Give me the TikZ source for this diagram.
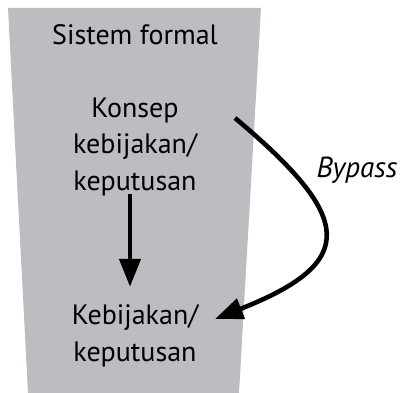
\documentclass[tikz,border=0pt]{standalone}
\usepackage{fontspec}
\setmainfont{PT Sans}
\usetikzlibrary{arrows.meta, positioning}

\definecolor{formalgray}{RGB}{188,189,192}

\begin{document}
\begin{tikzpicture}[x=1pt, y=-1pt,
    every node/.style={font=\fontsize{28}{36.5}\selectfont, inner sep=0pt},
    lbl/.style={align=center},
    a/.style={-{Triangle[length=28pt, width=21pt]}, line width=4.6pt}
]
\useasboundingbox (0,0) rectangle (402,393);
\fill[formalgray] (8,8) -- (261,8) -- (239,393) -- (28,393) -- cycle;
\node[lbl, anchor=base] (title)   at (135,45)  {Sistem formal};
\node[lbl]              (konsep)  at (135,147) {Konsep\\kebijakan/\\keputusan};
\node[lbl]              (hasil)   at (135,336) {Kebijakan/\\keputusan};
\node[font=\fontsize{29}{30}\selectfont\itshape] (bypass) at (357,170) {Bypass};
\coordinate (bstart) at (235,118);
\coordinate (bend)   at (215,319);
\draw[a, shorten <=-2pt, shorten >=18pt] ([xshift=-5pt]konsep.south) -- ([xshift=-5pt]hasil.north);
\draw[a] (bstart) .. controls (354,218) and (359,262) .. (bend);
\end{tikzpicture}
\end{document}
